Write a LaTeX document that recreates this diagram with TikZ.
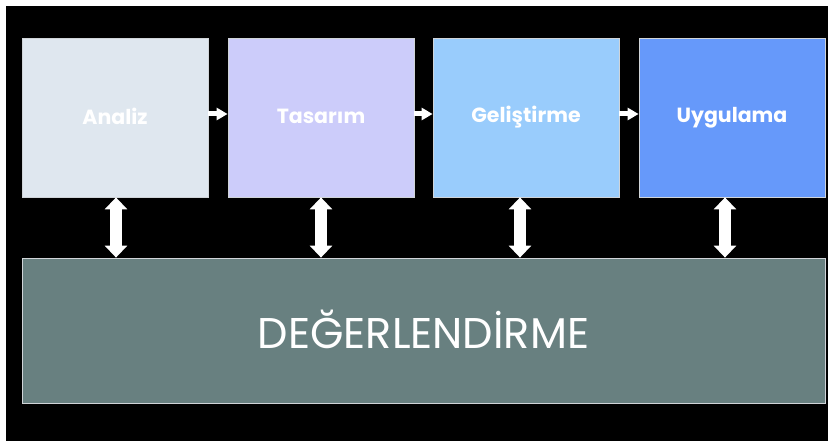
\documentclass[tikz,border=0pt]{standalone}
\usepackage{fontspec}
\setmainfont{Poppins}
\usetikzlibrary{arrows.meta}
\definecolor{cA}{HTML}{DFE7EF}
\definecolor{cT}{HTML}{CCCCFA}
\definecolor{cG}{HTML}{99CCFC}
\definecolor{cU}{HTML}{6699FA}
\definecolor{cD}{HTML}{688080}
\definecolor{bord}{HTML}{D0D4D8}
\begin{document}
\begin{tikzpicture}[x=1pt,y=-1pt,
  phase/.style={draw=bord,line width=0.8pt,minimum width=186pt,minimum height=159pt,inner sep=0pt,
     text=white,font=\fontsize{20.5}{24}\selectfont\bfseries},
  hflow/.style={draw=white,line width=5pt,-{Triangle[width=12pt,length=11pt]}},
  vflow/.style={draw=white,line width=12pt,{Triangle[width=22pt,length=12pt]}-{Triangle[width=22pt,length=12pt]}}]
\useasboundingbox (0,0) rectangle (828,441);
\fill[white] (0,0) rectangle (828,441);
\fill[black] (6,6) rectangle (828,441);
\node[phase,fill=cA] (an) at (115,117.5) {\raisebox{2pt}{Analiz}};
\node[phase,fill=cT] (ta) at (321,117.5) {\raisebox{2pt}{Tasarım}};
\node[phase,fill=cG] (ge) at (526,117.5) {\raisebox{2pt}{Geliştirme}};
\node[phase,fill=cU] (uy) at (732,117.5) {\raisebox{2pt}{Uygulama}};
\node[draw=bord,line width=0.8pt,fill=cD,minimum width=803pt,minimum height=145pt,inner sep=0pt,
  text=white,font=\fontsize{43}{48}\selectfont] (de) at (423.5,330.5) {\raisebox{3pt}{DEĞERLENDİRME}};
\draw[hflow] (an.east |- 0,114) -- (ta.west |- 0,114);
\draw[hflow] (ta.east |- 0,114) -- (ge.west |- 0,114);
\draw[hflow] (ge.east |- 0,114) -- (uy.west |- 0,114);
\draw[vflow] (an.south -| 116,0) -- (de.north -| 116,0);
\draw[vflow] (ta.south -| 321,0) -- (de.north -| 321,0);
\draw[vflow] (ge.south -| 520,0) -- (de.north -| 520,0);
\draw[vflow] (uy.south -| 725,0) -- (de.north -| 725,0);
\end{tikzpicture}
\end{document}
